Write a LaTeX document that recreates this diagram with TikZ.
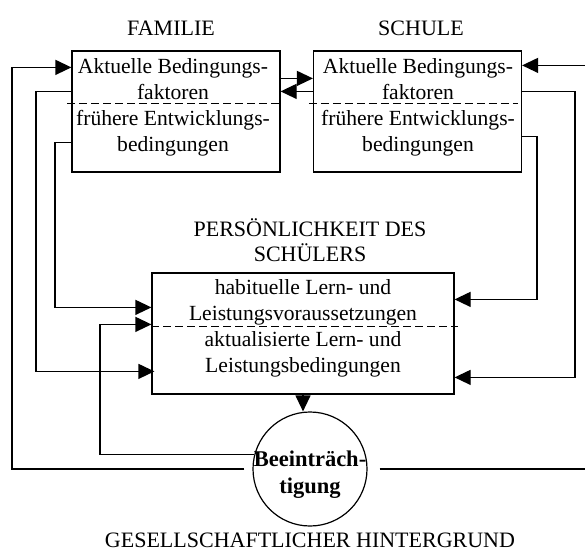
\documentclass[tikz,border=0pt]{standalone}
\usepackage{fontspec}
\setmainfont{Liberation Serif}
\usetikzlibrary{arrows.meta}
\begin{document}
\begin{tikzpicture}[x=1pt,y=-1pt,
  line width=1.2pt,
  box/.style={draw,rectangle,minimum width=208pt,minimum height=121pt,inner sep=0pt},
  boxtext/.style={align=center,font=\fontsize{21.6}{26}\selectfont,inner sep=0pt},
  heading/.style={align=center,font=\fontsize{22}{25}\selectfont,inner sep=0pt},
  arr/.style={-{Triangle[length=16pt,width=15pt]}},
  sepline/.style={dash pattern=on 8pt off 4pt}]
\useasboundingbox (0,0) rectangle (585,551);
\clip (0,0) rectangle (585,551);

% boxes
\node[box] (fam) at (176,111.5) {};
\node[box] (sch) at (417.5,111.5) {};
\node[box,minimum width=302pt] (per) at (303,333.5) {};
\node[draw,circle,minimum size=114pt,inner sep=0pt] (bee) at (310,469) {};

% texts
\node[heading,anchor=base] (famlabel) at (171,36) {FAMILIE};
\node[heading,anchor=base] (schlabel) at (421,36) {SCHULE};
\node[heading] (perlabel) at (310,240) {PERSÖNLICHKEIT DES\\SCHÜLERS};
\node[heading,anchor=base] (gesl) at (310,547) {GESELLSCHAFTLICHER HINTERGRUND};

\node[boxtext] (famtext) at (173,107) {Aktuelle Bedingungs-\\faktoren\\frühere Entwicklungs-\\bedingungen};
\node[boxtext] (schtext) at (418,107) {Aktuelle Bedingungs-\\faktoren\\frühere Entwicklungs-\\bedingungen};
\node[boxtext] (pertext) at (303,328) {habituelle Lern- und\\Leistungsvoraussetzungen\\aktualisierte Lern- und\\Leistungsbedingungen};
\node[align=center,font=\fontsize{22.5}{27}\selectfont\bfseries,inner sep=0pt] (beetext) at (310,475) {Beeinträch-\\tigung};

% dashed separators
\draw[sepline] ([xshift=-4pt,yshift=-53pt]fam.north west) -- ([xshift=2pt,yshift=-53pt]fam.north east);
\draw[sepline] ([xshift=-4pt,yshift=-53pt]sch.north west) -- ([xshift=-4pt,yshift=-53pt]sch.north east);
\draw[sepline] ([yshift=-54pt]per.north west) -- ([xshift=3pt,yshift=-54pt]per.north east);

% connectors
\draw[arr] ([yshift=-28pt]fam.north east) -- ([yshift=-28pt]sch.north west);
\draw[arr] ([yshift=-41pt]sch.north west) -- ([yshift=-41pt]fam.north east);

\draw[arr] (bee.165) -| (100,400) |- ([yshift=-52pt]per.north west);
\draw[arr] ([xshift=-8pt]bee.west) -| (12,300) |- ([yshift=-17pt]fam.north west);
\draw[arr] ([yshift=-41pt]fam.north west) -| (36,200) |- ([xshift=3pt,yshift=-99pt]per.north west);
\draw[arr] ([yshift=-92pt]fam.north west) -| (55,200) |- ([yshift=-35pt]per.north west);

\draw[arr] ([xshift=12pt]bee.east) -| (596,300) |- ([yshift=-15pt]sch.north east);
\draw[arr] ([yshift=-41pt]sch.north east) -| (575,200) |- ([yshift=-105pt]per.north east);
\draw[arr] ([yshift=-86pt]sch.north east) -| (537,200) |- ([yshift=-27pt]per.north east);

\draw[arr] (per.south) -- (per.south |- bee.north);
\end{tikzpicture}
\end{document}
